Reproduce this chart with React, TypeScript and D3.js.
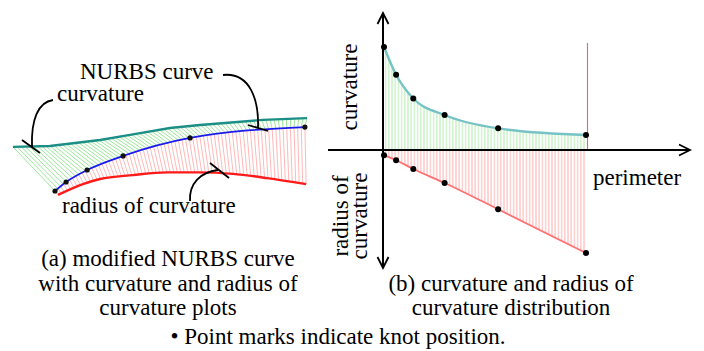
import React from 'react';
import { scaleLinear, line, area, curveMonotoneX, curveLinear, range, bisectLeft } from 'd3';

// (a) left panel, model units (x 0..10, y 0..3)
const nurbsKnots = [[1.5, 0.3], [1.87, 0.6], [2.57, 1.0], [3.77, 1.47], [6.0, 2.07], [9.83, 2.43]];
const curvatureLine = [[0.1, 1.77], [1.33, 1.8], [3.0, 2.0], [4.0, 2.17], [5.33, 2.4], [6.33, 2.5], [8.43, 2.67], [9.9, 2.73]];
const radiusLine = [[1.6, 0.17], [2.43, 0.53], [3.0, 0.7], [4.1, 0.83], [5.23, 0.92], [6.33, 0.92], [7.43, 0.87], [8.57, 0.73], [9.87, 0.53]];

// (b) right panel: distribution along perimeter
const perimeter = [0, 0.06, 0.145, 0.3, 0.565, 1];
const curvature = [1.0, 0.73, 0.5, 0.34, 0.21, 0.145];
const radius = [0.05, 0.1, 0.185, 0.32, 0.575, 1.0];

const captionA = ['(a) modified NURBS curve', 'with curvature and radius of', 'curvature plots'];
const captionB = ['(b) curvature and radius of', 'curvature distribution'];
const note = '\u2022 Point marks indicate knot position.';

const FONT = "'Liberation Serif'";

// scales
const lx = scaleLinear().domain([0, 10]).range([10, 310]);
const ly = scaleLinear().domain([0, 3]).range([200, 110]);
const px = scaleLinear().domain([0, 1]).range([384, 586]);
const up = scaleLinear().domain([0, 1]).range([150, 47]);
const down = scaleLinear().domain([0, 1]).range([150, 253]);

const toPx = (pts) => pts.map((d) => [lx(d[0]), ly(d[1])]);
const bluePx = toPx(nurbsKnots);
const tealPx = toPx(curvatureLine);
const redPx = toPx(radiusLine);

// flatten the drawn curve into a polyline so hatch lines sit on it
const flatten = (curve, pts) => {
  const out = [];
  let cx = 0, cy = 0;
  const ctx = {
    moveTo(x, y) { out.push([x, y]); cx = x; cy = y; },
    lineTo(x, y) { out.push([x, y]); cx = x; cy = y; },
    bezierCurveTo(x1, y1, x2, y2, x, y) {
      for (let k = 1; k <= 16; k++) {
        const t = k / 16, u = 1 - t;
        out.push([
          u * u * u * cx + 3 * u * u * t * x1 + 3 * u * t * t * x2 + t * t * t * x,
          u * u * u * cy + 3 * u * u * t * y1 + 3 * u * t * t * y2 + t * t * t * y,
        ]);
      }
      cx = x; cy = y;
    },
    closePath() {},
  };
  line().curve(curve).context(ctx)(pts);
  const cum = [0];
  for (let i = 1; i < out.length; i++) {
    cum.push(cum[i - 1] + Math.hypot(out[i][0] - out[i - 1][0], out[i][1] - out[i - 1][1]));
  }
  const total = cum[cum.length - 1];
  return (f) => {
    const L = f * total;
    const i = bisectLeft(cum, L);
    if (i <= 0) return out[0];
    if (i >= cum.length) return out[out.length - 1];
    const s = (L - cum[i - 1]) / (cum[i] - cum[i - 1] || 1);
    return [out[i - 1][0] + s * (out[i][0] - out[i - 1][0]), out[i - 1][1] + s * (out[i][1] - out[i - 1][1])];
  };
};

const blueAt = flatten(curveMonotoneX, bluePx);
const tealAt = flatten(curveLinear, tealPx);
const redAt = flatten(curveMonotoneX, redPx);
const hatchT = range(0, 73).map((i) => i / 72);

const curvPts = perimeter.map((p, i) => [p, curvature[i]]);
const radPts = perimeter.map((p, i) => [p, radius[i]]);

const Label = ({ x, y, text, anchor = 'start' }) => (
  <text x={x} y={y} textAnchor={anchor} style={{ fontFamily: FONT, fontSize: 23 }}>
    {text}
  </text>
);

const VLabel = ({ x, y, text }) => (
  <text transform={`translate(${x},${y}) rotate(-90)`} textAnchor="middle" style={{ fontFamily: FONT, fontSize: 23 }}>
    {text}
  </text>
);

const App = () => {
  const mono = line().curve(curveMonotoneX);
  const lin = line();
  const areaUp = area().x((d) => px(d[0])).y0(up(0)).y1((d) => up(d[1])).curve(curveMonotoneX);
  const areaDown = area().x((d) => px(d[0])).y0(down(0)).y1((d) => down(d[1])).curve(curveMonotoneX);
  const lineUp = line().x((d) => px(d[0])).y((d) => up(d[1])).curve(curveMonotoneX);
  const lineDown = line().x((d) => px(d[0])).y((d) => down(d[1])).curve(curveMonotoneX);

  return (
    <svg width={704} height={351} style={{ position: 'absolute', left: 0, top: 0 }}>
      <defs>
        <pattern id="hatchGreen" patternUnits="userSpaceOnUse" width={3.2} height={10}>
          <line x1={1.6} x2={1.6} y1={0} y2={10} stroke="#b4eeb0" strokeWidth={1} />
        </pattern>
        <pattern id="hatchRed" patternUnits="userSpaceOnUse" width={3.2} height={10}>
          <line x1={1.6} x2={1.6} y1={0} y2={10} stroke="#ffb0b0" strokeWidth={1} />
        </pattern>
      </defs>

      <Label x={80} y={79} text="NURBS curve" />
      <Label x={57} y={101} text="curvature" />
      <Label x={62} y={213} text="radius of curvature" />
      <VLabel x={357} y={87} text="curvature" />
      <VLabel x={348} y={216} text="radius of" />
      <VLabel x={367} y={216} text="curvature" />
      <Label x={593} y={185} text="perimeter" />
      {captionA.map((s, i) => (
        <Label key={s} x={168} y={266 + i * 24.5} text={s} anchor="middle" />
      ))}
      {captionB.map((s, i) => (
        <Label key={s} x={511} y={290.5 + i * 24.5} text={s} anchor="middle" />
      ))}
      <Label x={338} y={344} text={note} anchor="middle" />

      {/* (a) left panel */}
      <g>
        {hatchT.map((t) => {
          const b = blueAt(t), c = tealAt(t);
          return <line key={`g${t}`} x1={b[0]} y1={b[1]} x2={c[0]} y2={c[1]} stroke="#8fe48f" strokeWidth={0.9} />;
        })}
        {hatchT.map((t) => {
          const b = blueAt(t), r = redAt(t);
          return <line key={`r${t}`} x1={b[0]} y1={b[1]} x2={r[0]} y2={r[1]} stroke="#ffb0b0" strokeWidth={0.9} />;
        })}
        <path d={mono(bluePx)} fill="none" stroke="#1a1aee" strokeWidth={1.8} />
        <path d={lin(tealPx)} fill="none" stroke="#1b8f86" strokeWidth={2.4} />
        <path d={mono(redPx)} fill="none" stroke="#ff1a1a" strokeWidth={2.4} />
        {bluePx.map((d, i) => (
          <circle key={i} cx={d[0]} cy={d[1]} r={2.6} fill="#111" />
        ))}
        <g fill="none" stroke="#000" strokeWidth={1.8}>
          <path d="M53,100 C38,102 31,120 32,147" />
          <path d="M22,140 L40,153" />
          <path d="M223,75 C250,72 259,100 258,128" />
          <path d="M248,125 L268,131" />
          <path d="M190,201 C189,184 200,172 218,170" />
          <path d="M210,163 L229,178" />
        </g>
      </g>

      {/* (b) right panel */}
      <g>
        <path d={areaUp(curvPts)} fill="url(#hatchGreen)" />
        <path d={areaDown(radPts)} fill="url(#hatchRed)" />
        <line x1={px(1) + 1.5} x2={px(1) + 1.5} y1={up(1.04)} y2={up(0)} stroke="#ff5c5c" strokeWidth={1.1} />
        <path d={lineUp(curvPts)} fill="none" stroke="#76c3c6" strokeWidth={2.4} />
        <path d={lineDown(radPts)} fill="none" stroke="#ff7070" strokeWidth={1.8} />
        <g stroke="#000" fill="none" strokeWidth={2}>
          <line x1={328} x2={689} y1={150} y2={150} />
          <line x1={383} x2={383} y1={14} y2={267} />
          <path d="M679,144.5 L690,150 L679,155.5" strokeWidth={1.8} />
          <path d="M377.5,24 L383,13 L388.5,24" strokeWidth={1.8} />
          <path d="M377.5,257 L383,268 L388.5,257" strokeWidth={1.8} />
        </g>
        {curvPts.map((d, i) => (
          <circle key={`c${i}`} cx={px(d[0])} cy={up(d[1])} r={3} fill="#000" />
        ))}
        {radPts.map((d, i) => (
          <circle key={`d${i}`} cx={px(d[0])} cy={down(d[1])} r={3} fill="#000" />
        ))}
      </g>
    </svg>
  );
};

export default App;
